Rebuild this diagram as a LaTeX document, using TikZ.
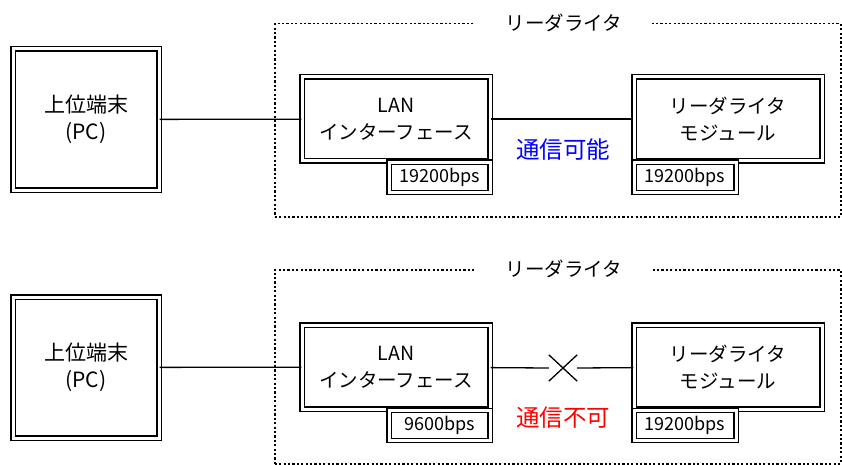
\documentclass[tikz,border=0pt]{standalone}
\usepackage{fontspec}
\setmainfont{Noto Sans CJK JP}
\usepackage{tikz}
\usetikzlibrary{positioning,shapes.misc}
\tikzstyle{modulo} = [draw, double, line width=1.3pt, double distance=3pt, rectangle, inner sep=0pt, align=center, font=\fontsize{19.5}{27}\selectfont]
\tikzstyle{velocidad} = [modulo, minimum height=30pt, font=\fontsize{18}{20}\selectfont]
\tikzstyle{grupo} = [draw, line width=1.5pt, dash pattern=on 2.2pt off 2.2pt, rectangle, minimum width=566pt, minimum height=193pt, anchor=north west]
\tikzstyle{rotulo} = [fill=white, inner xsep=30pt, inner ysep=2pt, font=\fontsize{19.5}{20}\selectfont]
\tikzstyle{estado} = [font=\fontsize{23.5}{24}\selectfont]

\begin{document}
\begin{tikzpicture}[x=1pt,y=-1pt,line width=1.3pt]
		\useasboundingbox (0,0) rectangle (842,465);
		\node[grupo] (rw1) at (274,23) {};
		\node[rotulo] (tit1) at (564,23) {リーダライタ};
		\node[modulo, minimum width=146pt, minimum height=141pt, font=\fontsize{21}{27}\selectfont] (pc1) at (86,119.5) {上位端末\\(PC)};
		\node[modulo, minimum width=188pt, minimum height=84pt] (lan1) at (396,119) {LAN\\インターフェース};
		\node[velocidad, minimum width=101pt, anchor=north east] (vlan1) at (lan1.south east) {19200bps};
		\node[modulo, minimum width=188pt, minimum height=84pt] (mod1) at (728,119) {リーダライタ\\モジュール};
		\node[velocidad, minimum width=102pt, anchor=north west] (vmod1) at (mod1.south west) {19200bps};
		\node[estado, text=blue] (ok1) at (563,150) {通信可能};
		\draw (pc1) -- (lan1);
		\draw (lan1) -- (mod1);

		\node[grupo, minimum height=194pt] (rw2) at (274,269) {};
		\node[rotulo] (tit2) at (564,269) {リーダライタ};
		\node[modulo, minimum width=146pt, minimum height=141pt, font=\fontsize{21}{27}\selectfont] (pc2) at (86,367.5) {上位端末\\(PC)};
		\node[modulo, minimum width=188pt, minimum height=84pt] (lan2) at (396,367) {LAN\\インターフェース};
		\node[velocidad, minimum width=101pt, anchor=north east] (vlan2) at (lan2.south east) {9600bps};
		\node[modulo, minimum width=188pt, minimum height=84pt] (mod2) at (728,367) {リーダライタ\\モジュール};
		\node[velocidad, minimum width=102pt, anchor=north west] (vmod2) at (mod2.south west) {19200bps};
		\node[draw, cross out, minimum width=27pt, minimum height=25pt, inner sep=0pt] (corte) at (563,368) {};
		\node[estado, text=red] (ng2) at (563,418) {通信不可};
		\draw (pc2) -- (lan2);
		\draw (lan2) -- (corte.west);
		\draw (corte.east) -- (mod2);
	\end{tikzpicture}
\end{document}
